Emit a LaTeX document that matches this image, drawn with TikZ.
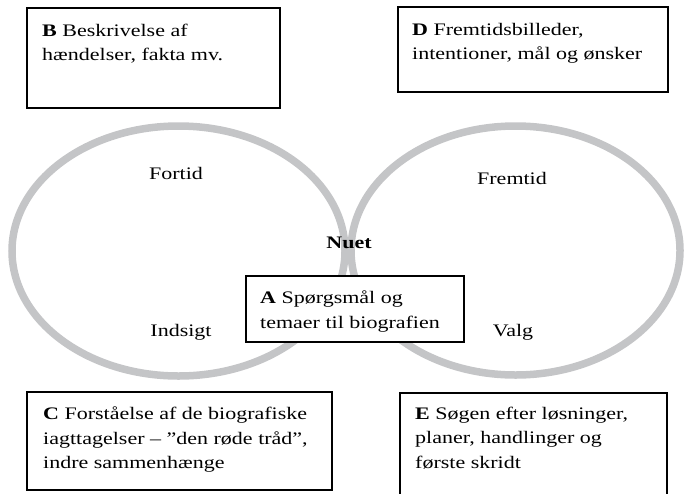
\documentclass[tikz,border=0pt]{standalone}
\usepackage{fontspec}
\setmainfont{Liberation Serif}
\definecolor{ringgray}{RGB}{196,197,199}
\tikzset{
  ring/.style={draw=ringgray, line width=7.5pt},
  frame/.style={draw=black, line width=2.2pt, fill=white},
  boxtext/.style={font=\fontsize{22}{30.5}\selectfont, align=left,
    anchor=north west, inner sep=0pt, yscale=0.8},
  word/.style={font=\fontsize{22}{26}\selectfont, anchor=base,
    inner sep=0pt, yscale=0.8}
}
\begin{document}
\begin{tikzpicture}[x=1pt,y=-1pt]
   \useasboundingbox (0,0) rectangle (684,493);

   % fortid og fremtid
   \draw[ring] (178.5,251) ellipse [x radius=166.5, y radius=125];
   \draw[ring] (515.5,250.5) ellipse [x radius=164.5, y radius=124.5];

   \node[word] (fortid) at (176,179) {Fortid};
   \node[word] (fremtid) at (512,184) {Fremtid};
   \node[word] (indsigt) at (181,336) {Indsigt};
   \node[word] (valg) at (513,336) {Valg};
   \node[word,font=\fontsize{22}{26}\selectfont\bfseries] (nuet) at (349,248) {Nuet};

   % kasserne
   \draw[frame] (27,8) rectangle (280,108);
   \node[boxtext] (boxB) at (42,24) {\textbf{B} Beskrivelse af\\hændelser, fakta mv.};

   \draw[frame] (398,7) rectangle (668,92);
   \node[boxtext] (boxD) at (412,23) {\textbf{D} Fremtidsbilleder,\\intentioner, mål og ønsker};

   \draw[frame] (246,276) rectangle (464,342);
   \node[boxtext] (boxA) at (260,291) {\textbf{A} Spørgsmål og\\temaer til biografien};

   \draw[frame] (27,392) rectangle (332,490);
   \node[boxtext] (boxC) at (43,407) {\textbf{C} Forståelse af de biografiske\\iagttagelser – ”den røde tråd”,\\indre sammenhænge};

   \draw[frame] (400,393) rectangle (667,500);
   \node[boxtext] (boxE) at (415,407) {\textbf{E} Søgen efter løsninger,\\planer, handlinger og\\første skridt};
\end{tikzpicture}
\end{document}
